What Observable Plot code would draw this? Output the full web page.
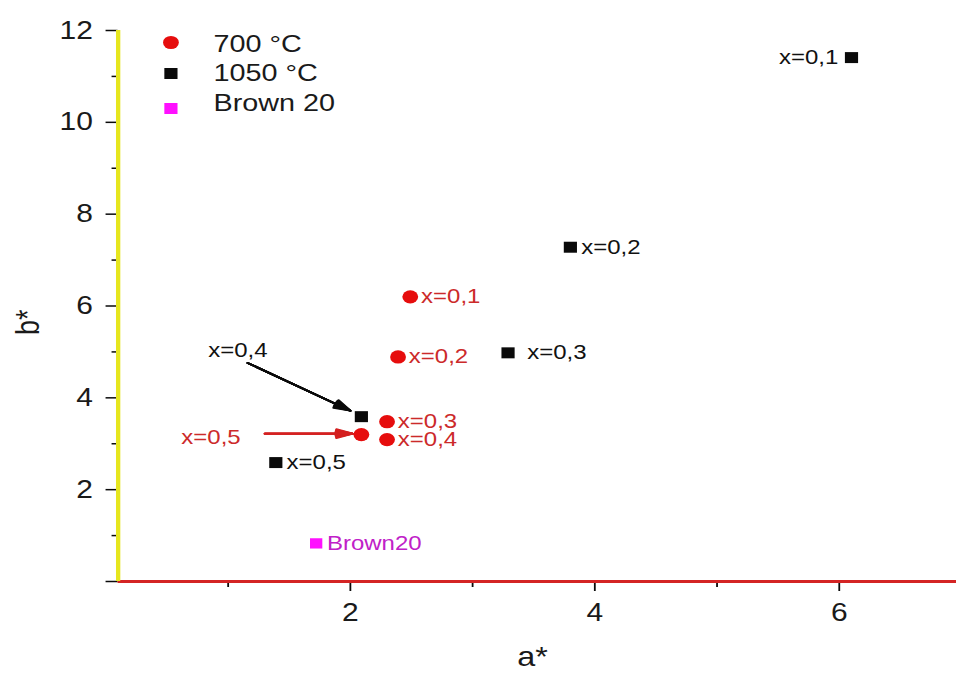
<!DOCTYPE html>
<html>
<head>
<meta charset="utf-8">
<script src="https://cdn.jsdelivr.net/npm/d3@7"></script>
<script src="https://cdn.jsdelivr.net/npm/@observablehq/plot@0.6"></script>
<style>
  html, body { margin: 0; padding: 0; background: #fff; overflow: hidden; }
  /* the figure is drawn slightly narrow and widened horizontally */
  #wrap { width: 797px; height: 673px; transform: scaleX(1.1995); transform-origin: 0 0; }
  #wrap svg { display: block; }
</style>
</head>
<body>
<div id="wrap"></div>
<script>
// CIELab colour coordinates (a*, b*) of the samples
const samples700 = ["x=0,1", "x=0,2", "x=0,3", "x=0,4", "x=0,5"];
const a700 = [2.49, 2.39, 2.30, 2.30, 2.09];
const b700 = [6.20, 4.89, 3.48, 3.09, 3.20];

const samples1050 = ["x=0,1", "x=0,2", "x=0,3", "x=0,4", "x=0,5"];
const a1050 = [6.10, 3.80, 3.29, 2.09, 1.39];
const b1050 = [11.41, 7.28, 4.98, 3.59, 2.59];

const referenceName = ["Brown20"];
const aRef = [1.72];
const bRef = [0.83];

const legendLabels = ["700 °C", "1050 °C", "Brown 20"];

// callouts: label position and arrow from label to point (a*, b*)
const calloutLabels = ["x=0,4", "x=0,5"];
const calloutSeries = ["1050", "700"];
const calloutTextA = [1.08, 0.86];
const calloutTextB = [5.02, 3.13];
const calloutFromA = [1.16, 1.30];
const calloutFromB = [4.76, 3.22];
const calloutToA = [2.00, 2.02];
const calloutToB = [3.72, 3.22];

const xTicks = [2, 4, 6];
const xMinor = [1, 3, 5];
const yTicks = [0, 2, 4, 6, 8, 10, 12];
const yMinor = [1, 3, 5, 7, 9, 11];

const RED = "#e60d0d";
const RED_TEXT = "#cc2a2a";
const BLACK = "#0a0a0a";
const MAGENTA = "#ff10ff";

const rows700 = samples700.map((s, i) => ({label: s, a: a700[i], b: b700[i]}));
const rows1050 = samples1050.map((s, i) => ({label: s, a: a1050[i], b: b1050[i]}));
const rowsRef = referenceName.map((s, i) => ({label: s, a: aRef[i], b: bRef[i]}));
const callouts = calloutLabels.map((s, i) => ({
  label: s, series: calloutSeries[i],
  tx: calloutTextA[i], ty: calloutTextB[i],
  x1: calloutFromA[i], y1: calloutFromB[i],
  x2: calloutToA[i], y2: calloutToB[i]
}));
const called = new Set(callouts.map(d => d.series + d.label));
const calloutStroke = d => d.series === "700" ? "#d42020" : BLACK;

const font = "'Liberation Sans', Arial, sans-serif";
const legendColor = [RED, BLACK, MAGENTA];
const legendSymbol = ["circle", "square", "square"];
const legendR = [6.6, 6.2, 6.2];
const legendDotDy = [12, 43, 78];
const legendTextDy = [13.5, 42.5, 72.5];

const legendMarks = legendLabels.flatMap((lab, i) => [
  Plot.dot([lab], {frameAnchor: "top-left", dx: 44, dy: legendDotDy[i], r: legendR[i],
    symbol: legendSymbol[i], fill: legendColor[i], stroke: "none"}),
  Plot.text([lab], {frameAnchor: "top-left", dx: 79.5, dy: legendTextDy[i], text: d => d,
    textAnchor: "start", lineAnchor: "middle", fontSize: 24, fill: "#1a1a1a"})
]);

// solid arrowheads: a fan of narrow heads that fills the triangle
const arrowMarks = [6, 12, 18, 24, 30, 36].map(angle =>
  Plot.arrow(callouts, {x1: "x1", y1: "y1", x2: "x2", y2: "y2",
    stroke: calloutStroke, strokeWidth: 1.8, headLength: 12, headAngle: angle}));

const chart = Plot.plot({
  width: 797,
  height: 673,
  marginLeft: 98,
  marginRight: 0,
  marginTop: 30,
  marginBottom: 92,
  style: {fontFamily: font, background: "#fff", color: "#1a1a1a"},
  x: {domain: [0.1, 6.96]},
  y: {domain: [0, 12]},
  marks: [
    // axes
    Plot.axisY({ticks: yTicks, tickSize: 10, tickPadding: 11, fontSize: 25, label: null,
      tickFormat: d => d === 0 ? "" : String(d), stroke: BLACK, strokeWidth: 1.5}),
    Plot.axisY({ticks: yMinor, tickSize: 5, tickFormat: () => "", label: null,
      stroke: BLACK, strokeWidth: 1.5}),
    Plot.axisX({ticks: xTicks, tickSize: 10, tickPadding: 12, fontSize: 25, label: null,
      tickFormat: d => String(d), stroke: BLACK, strokeWidth: 1.5}),
    Plot.axisX({ticks: xMinor, tickSize: 6, tickFormat: () => "", label: null,
      stroke: BLACK, strokeWidth: 1.5}),
    Plot.ruleY([0], {stroke: "#d42424", strokeWidth: 3.2}),
    Plot.ruleX([0.1], {stroke: "#e6e61e", strokeWidth: 3.6, y1: 0, y2: 12}),
    Plot.text(["b*"], {frameAnchor: "left", rotate: -90, dx: -75, dy: 29, fontSize: 27, fill: "#1a1a1a"}),
    Plot.text(["a*"], {frameAnchor: "bottom", dx: -4, dy: 84, lineAnchor: "bottom", fontSize: 27, fill: "#1a1a1a"}),

    // callout arrows and labels
    ...arrowMarks,
    Plot.text(callouts, {x: "tx", y: "ty", text: "label", fontSize: 20,
      fill: d => d.series === "700" ? RED_TEXT : "#111"}),

    // 700 °C samples
    Plot.dot(rows700, {x: "a", y: "b", r: 6.6, fill: RED, stroke: "none"}),
    Plot.text(rows700.filter(d => !called.has("700" + d.label)), {x: "a", y: "b", text: "label",
      dx: 9, textAnchor: "start", fontSize: 20, fill: RED_TEXT}),

    // 1050 °C samples
    Plot.dot(rows1050, {x: "a", y: "b", r: 6.2, symbol: "square", fill: BLACK, stroke: "none"}),
    Plot.text(rows1050.filter(d => d.label === "x=0,2" || d.label === "x=0,5"), {x: "a", y: "b", text: "label",
      dx: 9, textAnchor: "start", fontSize: 20, fill: "#111"}),
    Plot.text(rows1050.filter(d => d.label === "x=0,3"), {x: "a", y: "b", text: "label",
      dx: 16, textAnchor: "start", fontSize: 20, fill: "#111"}),
    Plot.text(rows1050.filter(d => d.label === "x=0,1"), {x: "a", y: "b", text: "label",
      dx: -11, textAnchor: "end", fontSize: 20, fill: "#111"}),

    // reference pigment
    Plot.dot(rowsRef, {x: "a", y: "b", r: 5.8, symbol: "square", fill: MAGENTA, stroke: "none"}),
    Plot.text(rowsRef, {x: "a", y: "b", text: "label", dx: 9, textAnchor: "start",
      fontSize: 20, fill: "#c020c8"}),

    ...legendMarks
  ]
});

document.getElementById("wrap").appendChild(chart);
</script>
</body>
</html>
